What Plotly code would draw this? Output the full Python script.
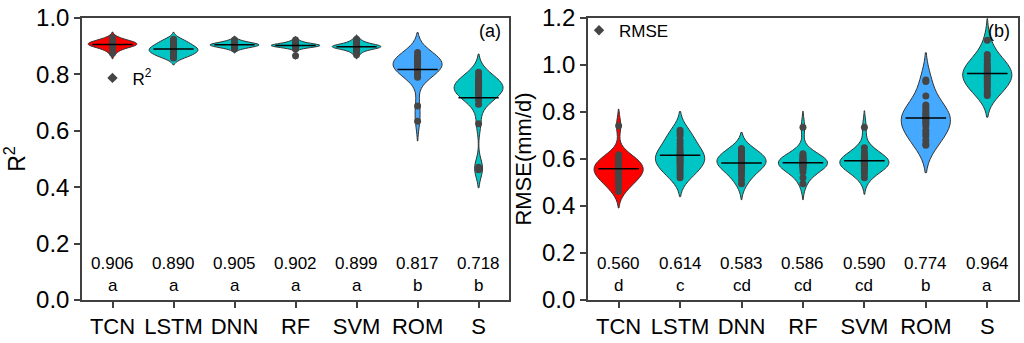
import plotly.graph_objects as go
from plotly.subplots import make_subplots

models = ["TCN", "LSTM", "DNN", "RF", "SVM", "ROM", "S"]

r2_values = {
    "TCN": [0.930, 0.925, 0.921, 0.918, 0.915, 0.913, 0.911, 0.910, 0.909, 0.908,
            0.907, 0.906, 0.905, 0.903, 0.901, 0.899, 0.896, 0.892, 0.885, 0.875],
    "LSTM": [0.925, 0.920, 0.915, 0.910, 0.906, 0.902, 0.898, 0.895, 0.892, 0.890,
             0.888, 0.885, 0.882, 0.880, 0.877, 0.874, 0.870, 0.866, 0.862, 0.858],
    "DNN": [0.922, 0.918, 0.914, 0.911, 0.909, 0.908, 0.907, 0.906, 0.906, 0.905,
            0.905, 0.904, 0.903, 0.902, 0.901, 0.900, 0.898, 0.896, 0.893, 0.890],
    "RF": [0.922, 0.916, 0.912, 0.909, 0.907, 0.906, 0.905, 0.904, 0.903, 0.903,
           0.902, 0.902, 0.901, 0.900, 0.900, 0.899, 0.898, 0.896, 0.890, 0.866],
    "SVM": [0.925, 0.918, 0.912, 0.908, 0.905, 0.903, 0.902, 0.901, 0.900, 0.899,
            0.898, 0.897, 0.896, 0.895, 0.894, 0.892, 0.889, 0.885, 0.879, 0.870],
    "ROM": [0.878, 0.860, 0.866, 0.860, 0.855, 0.850, 0.846, 0.842, 0.838, 0.834,
            0.830, 0.826, 0.822, 0.818, 0.813, 0.806, 0.798, 0.790, 0.688, 0.634],
    "S": [0.808, 0.795, 0.785, 0.778, 0.772, 0.766, 0.761, 0.756, 0.752, 0.748,
          0.744, 0.739, 0.734, 0.728, 0.720, 0.708, 0.694, 0.625, 0.471, 0.462],
}

rmse_values = {
    "TCN": [0.742, 0.618, 0.610, 0.600, 0.592, 0.585, 0.578, 0.570, 0.564, 0.558,
            0.552, 0.546, 0.540, 0.533, 0.526, 0.518, 0.508, 0.496, 0.482, 0.462],
    "LSTM": [0.722, 0.712, 0.700, 0.680, 0.665, 0.650, 0.638, 0.628, 0.620, 0.613,
             0.606, 0.600, 0.594, 0.587, 0.578, 0.568, 0.556, 0.545, 0.532, 0.520],
    "DNN": [0.645, 0.638, 0.630, 0.622, 0.615, 0.608, 0.602, 0.597, 0.592, 0.588,
            0.584, 0.580, 0.576, 0.571, 0.565, 0.556, 0.545, 0.530, 0.512, 0.495],
    "RF": [0.735, 0.622, 0.615, 0.608, 0.603, 0.598, 0.594, 0.590, 0.587, 0.584,
           0.581, 0.578, 0.575, 0.572, 0.568, 0.563, 0.556, 0.545, 0.520, 0.495],
    "SVM": [0.735, 0.648, 0.630, 0.618, 0.610, 0.604, 0.599, 0.595, 0.591, 0.588,
            0.585, 0.582, 0.579, 0.576, 0.572, 0.567, 0.560, 0.550, 0.537, 0.520],
    "ROM": [0.936, 0.930, 0.868, 0.830, 0.820, 0.808, 0.798, 0.790, 0.782, 0.775,
            0.768, 0.760, 0.752, 0.740, 0.722, 0.710, 0.698, 0.680, 0.665, 0.658],
    "S": [1.105, 1.045, 1.035, 1.020, 1.005, 0.995, 0.985, 0.978, 0.970, 0.965,
          0.960, 0.952, 0.944, 0.935, 0.925, 0.915, 0.905, 0.892, 0.880, 0.870],
}

r2_means = ["0.906", "0.890", "0.905", "0.902", "0.899", "0.817", "0.718"]
r2_letters = ["a", "a", "a", "a", "a", "b", "b"]
rmse_means = ["0.560", "0.614", "0.583", "0.586", "0.590", "0.774", "0.964"]
rmse_letters = ["d", "c", "cd", "cd", "cd", "b", "a"]

# styles (kernel bandwidths chosen to match the reference's violin outlines)
r2_bandwidth = {"TCN": 0.010, "LSTM": 0.012, "DNN": 0.007, "RF": 0.006,
                "SVM": 0.0075, "ROM": 0.035, "S": 0.032}
rmse_bandwidth = {"TCN": 0.035, "LSTM": 0.04, "DNN": 0.034, "RF": 0.034,
                  "SVM": 0.035, "ROM": 0.058, "S": 0.046}

colors = {"TCN": "#FF0000", "LSTM": "#00C5C5", "DNN": "#00C5C5", "RF": "#00C5C5",
          "SVM": "#00C5C5", "ROM": "#45AAFF", "S": "#00C5C5"}

point_color = "#454545"
font_family = "Liberation Sans, Arial, sans-serif"

fig = make_subplots(rows=1, cols=2, horizontal_spacing=0.0844)

shapes = []
for col, values, bws in ((1, r2_values, r2_bandwidth), (2, rmse_values, rmse_bandwidth)):
    xref = "x" if col == 1 else "x2"
    yref = "y" if col == 1 else "y2"
    for i, m in enumerate(models):
        fig.add_trace(go.Violin(
            x=[m] * len(values[m]), y=values[m], name=m,
            fillcolor=colors[m], opacity=1,
            line=dict(color="#333333", width=1),
            width=0.8, points="all", pointpos=0, jitter=0,
            marker=dict(color=point_color, size=7, symbol="circle"),
            meanline=dict(visible=False),
            box=dict(visible=False), showlegend=False, hoverinfo="y",
            spanmode="soft", bandwidth=bws[m],
        ), row=1, col=col)
        mean_val = sum(values[m]) / len(values[m])
        shapes.append(dict(type="line", xref=xref, yref=yref,
                           x0=i - 0.33, x1=i + 0.33, y0=mean_val, y1=mean_val,
                           line=dict(color="black", width=1.5), layer="above"))

# legend dummy traces
fig.add_trace(go.Scatter(x=[None], y=[None], mode="markers", name="R<sup>2</sup>",
                         marker=dict(color=point_color, size=8, symbol="diamond"),
                         legend="legend"), row=1, col=1)
fig.add_trace(go.Scatter(x=[None], y=[None], mode="markers", name="RMSE",
                         marker=dict(color=point_color, size=8, symbol="diamond"),
                         legend="legend2"), row=1, col=2)

annotations = []
lab_font = dict(size=17, color="black")
for i, m in enumerate(models):
    annotations.append(dict(x=m, y=0.128, xref="x", yref="y", text=r2_means[i],
                            showarrow=False, font=lab_font, borderpad=0))
    annotations.append(dict(x=m, y=0.052, xref="x", yref="y", text=r2_letters[i],
                            showarrow=False, font=lab_font, borderpad=0))
    annotations.append(dict(x=m, y=0.154, xref="x2", yref="y2", text=rmse_means[i],
                            showarrow=False, font=lab_font, borderpad=0))
    annotations.append(dict(x=m, y=0.062, xref="x2", yref="y2", text=rmse_letters[i],
                            showarrow=False, font=lab_font, borderpad=0))
annotations.append(dict(x=0.985, y=0.995, xref="x domain", yref="y domain", text="(a)",
                        showarrow=False, xanchor="right", yanchor="top",
                        font=dict(size=18, color="black")))
annotations.append(dict(x=0.985, y=0.995, xref="x2 domain", yref="y2 domain", text="(b)",
                        showarrow=False, xanchor="right", yanchor="top",
                        font=dict(size=18, color="black")))

axis_common = dict(showline=True, linecolor="#404040", linewidth=1.5, mirror=True,
                   ticks="outside", ticklen=6, tickwidth=1.5, tickcolor="#404040",
                   showgrid=False, zeroline=False)

fig.update_xaxes(**axis_common, type="category", categoryorder="array",
                 categoryarray=models, range=[-0.5, 6.5],
                 tickfont=dict(size=22, color="black"))
fig.update_yaxes(**axis_common, dtick=0.2, tickformat=".1f",
                 tickfont=dict(size=24, color="black"))
fig.update_yaxes(range=[0, 1.0], title=dict(text="R<sup>2</sup>", font=dict(size=23, color="black"), standoff=6),
                 row=1, col=1)
fig.update_yaxes(range=[0, 1.2], title=dict(text="RMSE(mm/d)", font=dict(size=22, color="black"), standoff=4),
                 row=1, col=2)

fig.update_layout(
    width=1024, height=343,
    margin=dict(l=82, r=4, t=17, b=40),
    paper_bgcolor="white", plot_bgcolor="white",
    violinmode="overlay",
    font=dict(family=font_family, color="black"),
    annotations=annotations,
    shapes=shapes,
    legend=dict(x=0.0112, y=0.786, xanchor="left", yanchor="middle",
                bgcolor="rgba(0,0,0,0)", font=dict(size=17), itemwidth=30),
    legend2=dict(x=0.531, y=0.955, xanchor="left", yanchor="middle",
                 bgcolor="rgba(0,0,0,0)", font=dict(size=17), itemwidth=30),
)
fig.update_xaxes(domain=[0.0, 0.4563], row=1, col=1)
fig.update_xaxes(domain=[0.5405, 1.0], row=1, col=2)

fig.write_html("out.html")
